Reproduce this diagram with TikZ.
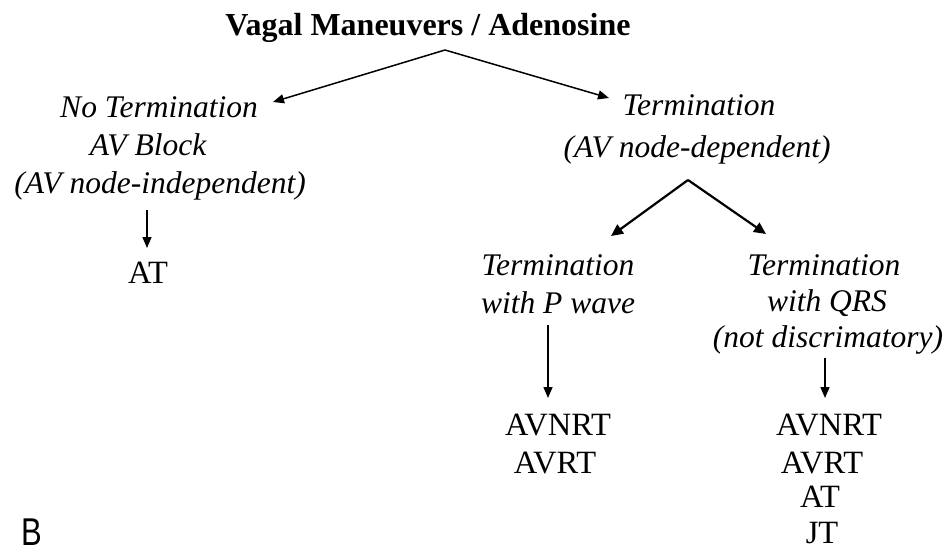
\documentclass[tikz,border=0pt]{standalone}
\usepackage{fontspec}
\setmainfont{Liberation Serif}
\setsansfont{Liberation Sans}
\usetikzlibrary{arrows.meta}
\begin{document}
\begin{tikzpicture}[x=1pt,y=-1pt,
  lbl/.style={anchor=base,inner sep=0pt,font=\fontsize{31.5}{31.5}\selectfont\itshape},
  res/.style={anchor=base,inner sep=0pt,font=\fontsize{32.5}{32.5}\selectfont},
  conn/.style={line width=1.5pt,-{Triangle[length=11pt,width=9pt]}},
  connb/.style={line width=2.2pt,-{Triangle[length=12pt,width=11pt]}}]
\useasboundingbox (0,0) rectangle (945,555);
% title
\node[anchor=base,inner sep=0pt,font=\fontsize{32}{32}\selectfont\bfseries] (title) at (428,35) {Vagal Maneuvers / Adenosine};
% left branch
\node[lbl] (nt) at (159,117) {No Termination};
\node[lbl] (avb) at (148,155) {AV Block};
\node[lbl] (avi) at (160,193) {(AV node-independent)};
\node[res] (atL) at (148,283) {AT};
% right branch
\node[lbl] (tr) at (699,115) {Termination};
\node[lbl] (avd) at (697,157) {(AV node-dependent)};
% lower left
\node[lbl] (tp) at (558,275) {Termination};
\node[lbl] (wp) at (558,313) {with P wave};
\node[res] (avnrtA) at (558,435) {AVNRT};
\node[res] (avrtA) at (555,473) {AVRT};
% lower right
\node[lbl] (tq) at (824,275) {Termination};
\node[lbl] (wq) at (827,311) {with QRS};
\node[lbl] (nd) at (828,347) {(not discrimatory)};
\node[res] (avnrtB) at (829,435) {AVNRT};
\node[res] (avrtB) at (822,473) {AVRT};
\node[res] (atB) at (820,507) {AT};
\node[res] (jtB) at (822,543) {JT};
% label B
\node[anchor=base,inner sep=0pt,yscale=1.25,font=\fontsize{31}{31}\selectfont\sffamily] (lb) at (32,545) {B};
% connector coordinates
\coordinate (apex1) at (445,50);
\coordinate (tipL) at (273,102);
\coordinate (tipR) at (609,98);
\coordinate (apex2) at (688,180);
\coordinate (tipLL) at (611,236);
\coordinate (tipLR) at (766,234);
\coordinate (vAs) at (147,210);
\coordinate (vAe) at (147,248);
\coordinate (vBs) at (548,325);
\coordinate (vBe) at (548,398);
\coordinate (vCs) at (825,358);
\coordinate (vCe) at (825,398);
% connectors
\draw[conn] (apex1) -- (tipL);
\draw[conn] (apex1) -- (tipR);
\draw[connb] (apex2) -- (tipLL);
\draw[connb] (apex2) -- (tipLR);
\draw[conn] (vAs) -- (vAe);
\draw[conn] (vBs) -- (vBe);
\draw[conn] (vCs) -- (vCe);
\end{tikzpicture}
\end{document}
